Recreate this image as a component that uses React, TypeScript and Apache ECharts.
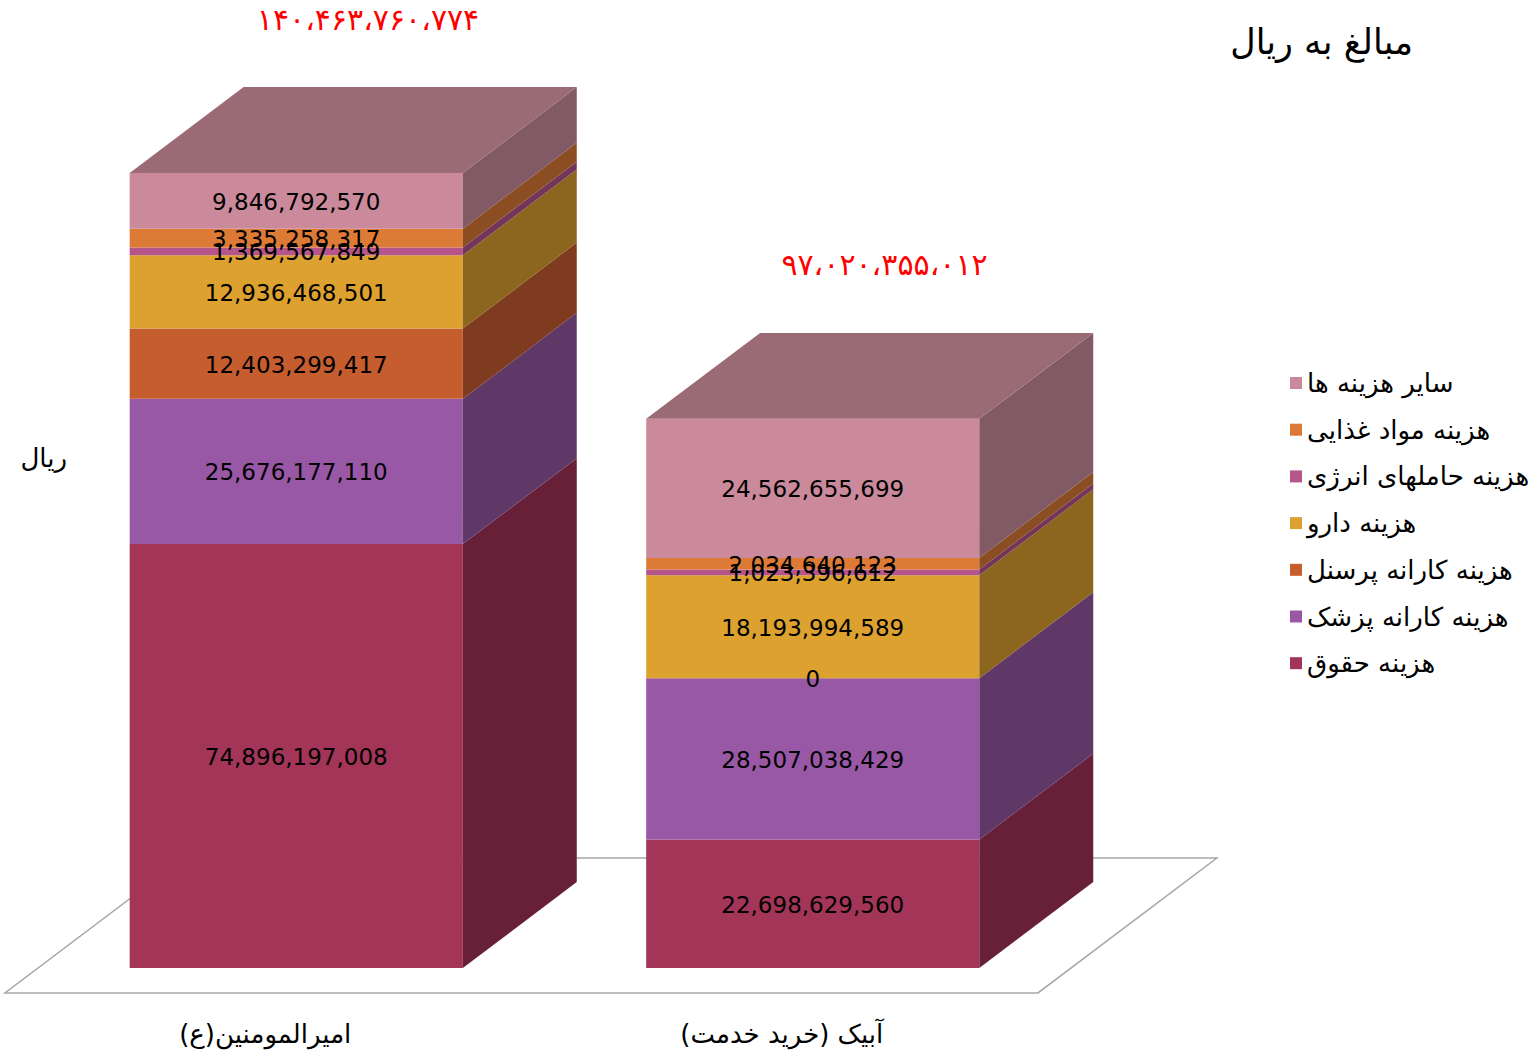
import React, { useEffect, useRef } from "react";
import * as echarts from "echarts";

const categories = ["امیرالمومنین(ع)", "آبیک (خرید خدمت)"];
const seriesNames = [
  "هزینه حقوق",
  "هزینه کارانه پزشک",
  "هزینه کارانه پرسنل",
  "هزینه دارو",
  "هزینه حاملهای انرژی",
  "هزینه مواد غذایی",
  "سایر هزینه ها",
];
const seriesValues: number[][] = [
  [74896197008, 22698629560],
  [25676177110, 28507038429],
  [12403299417, 0],
  [12936468501, 18193994589],
  [1369567849, 1023396612],
  [3335258317, 2034640123],
  [9846792570, 24562655699],
];
const totalLabels = [140463760774, 97020355012];
const frontColors = ["#A33558", "#9958A6", "#C55D2F", "#DDA12F", "#B5558A", "#DD7B36", "#CB8A9B"];
const sideColors = ["#682039", "#5F3868", "#7E3B1F", "#8C661E", "#73365A", "#8B4D22", "#825A66"];
const topColor = "#9B6B75";

const FONT = "DejaVu Sans";
const BAR_RATIO = 0.645;
const DEPTH_X = 0.342;
const DEPTH_Y = 0.258;

const toFa = (n: number) =>
  n
    .toLocaleString("en-US")
    .replace(/\d/g, (d) => "۰۱۲۳۴۵۶۷۸۹"[Number(d)])
    .replace(/,/g, "،");

const rtl = (s: string) => "\u200F" + s + "\u200F";

export default function App() {
  const ref = useRef<HTMLDivElement>(null);
  useEffect(() => {
    document.body.style.margin = "0";
    if (!ref.current) return;
    const chart = echarts.init(ref.current, undefined, { renderer: "svg" });

    const barSeries = seriesValues.map((vals, si) => {
      const data = vals.map((v, c) => {
        let lo = 0;
        for (let k = 0; k < si; k++) lo += seriesValues[k][c];
        return [c, lo, lo + v, v];
      });
      const isTop = si === seriesValues.length - 1;
      return {
        type: "custom",
        name: seriesNames[si],
        z: 3,
        itemStyle: { color: frontColors[si] },
        data,
        renderItem: (params: any, api: any) => {
          const cat = api.value(0);
          const lo = api.value(1);
          const hi = api.value(2);
          const v = api.value(3);
          const pLo = api.coord([cat, lo]);
          const pHi = api.coord([cat, hi]);
          const band = api.size([1, 0])[0];
          const w = band * BAR_RATIO;
          const x0 = pLo[0] - w / 2;
          const x1 = pLo[0] + w / 2;
          const dx = w * DEPTH_X;
          const dy = -w * DEPTH_Y;
          const children: any[] = [
            {
              type: "rect",
              shape: { x: x0, y: pHi[1], width: w, height: pLo[1] - pHi[1] },
              style: { fill: frontColors[si] },
            },
            {
              type: "polygon",
              shape: {
                points: [
                  [x1, pHi[1]],
                  [x1 + dx, pHi[1] + dy],
                  [x1 + dx, pLo[1] + dy],
                  [x1, pLo[1]],
                ],
              },
              style: { fill: sideColors[si] },
            },
            {
              type: "text",
              z2: 100,
              style: {
                text: v.toLocaleString("en-US"),
                x: pLo[0],
                y: (pLo[1] + pHi[1]) / 2 + 1,
                align: "center",
                verticalAlign: "middle",
                fontFamily: FONT,
                fontSize: 23,
                fill: "#000",
              },
            },
          ];
          if (isTop) {
            children.push({
              type: "polygon",
              shape: {
                points: [
                  [x0, pHi[1]],
                  [x0 + dx, pHi[1] + dy],
                  [x1 + dx, pHi[1] + dy],
                  [x1, pHi[1]],
                ],
              },
              style: { fill: topColor },
            });
            children.push({
              type: "text",
              z2: 100,
              style: {
                text: toFa(totalLabels[cat]),
                x: pLo[0] + dx * 0.63,
                y: pHi[1] + dy - 68,
                align: "center",
                verticalAlign: "middle",
                fontFamily: FONT,
                fontSize: 30,
                fill: "#FF0000",
              },
            });
          }
          return { type: "group", children };
        },
      };
    });

    const floorSeries = {
      type: "custom",
      z: 1,
      silent: true,
      data: [[0]],
      renderItem: (params: any, api: any) => {
        const cs = params.coordSys;
        const band = api.size([1, 0])[0];
        const w = band * BAR_RATIO;
        const dx = w * DEPTH_X;
        const dy = -w * DEPTH_Y;
        const y0 = api.coord([0, 0])[1];
        const xl = cs.x;
        const xr = cs.x + cs.width;
        const f = 0.29;
        const b = 1.28;
        return {
          type: "polygon",
          shape: {
            points: [
              [xl - f * dx, y0 - f * dy],
              [xr - f * dx, y0 - f * dy],
              [xr + b * dx, y0 + b * dy],
              [xl + b * dx, y0 + b * dy],
            ],
          },
          style: { fill: "none", stroke: "#A6A6A6", lineWidth: 1.5 },
        };
      },
    };

    chart.setOption({
      animation: false,
      grid: { left: 38, right: 469, top: 119, bottom: 83 },
      xAxis: {
        type: "category",
        data: categories,
        axisLine: { show: false },
        axisTick: { show: false },
        axisLabel: {
          margin: 53,
          fontFamily: FONT,
          fontSize: 26,
          color: "#000",
          padding: [0, 62, 0, 0],
          formatter: (s: string) => rtl(s),
        },
      },
      yAxis: { type: "value", min: 0, max: 150000000000, show: false },
      legend: {
        orient: "vertical",
        left: 1285,
        top: 363,
        icon: "rect",
        itemWidth: 12,
        itemHeight: 12,
        itemGap: 16.7,
        data: [...seriesNames].reverse(),
        textStyle: { fontFamily: FONT, fontSize: 26, color: "#000", lineHeight: 30 },
        formatter: (s: string) => rtl(s),
      },
      graphic: [
        {
          type: "text",
          x: 1413,
          y: 42,
          style: {
            text: rtl("مبالغ به ریال"),
            align: "right",
            verticalAlign: "middle",
            fontFamily: FONT,
            fontSize: 35,
            fill: "#000",
          },
        },
        {
          type: "text",
          x: 67,
          y: 458,
          style: {
            text: rtl("ریال"),
            align: "right",
            verticalAlign: "middle",
            fontFamily: FONT,
            fontSize: 26,
            fill: "#000",
          },
        },
      ],
      series: [floorSeries, ...barSeries],
    });
    return () => chart.dispose();
  }, []);
  return <div ref={ref} style={{ width: 1540, height: 1051 }} />;
}
